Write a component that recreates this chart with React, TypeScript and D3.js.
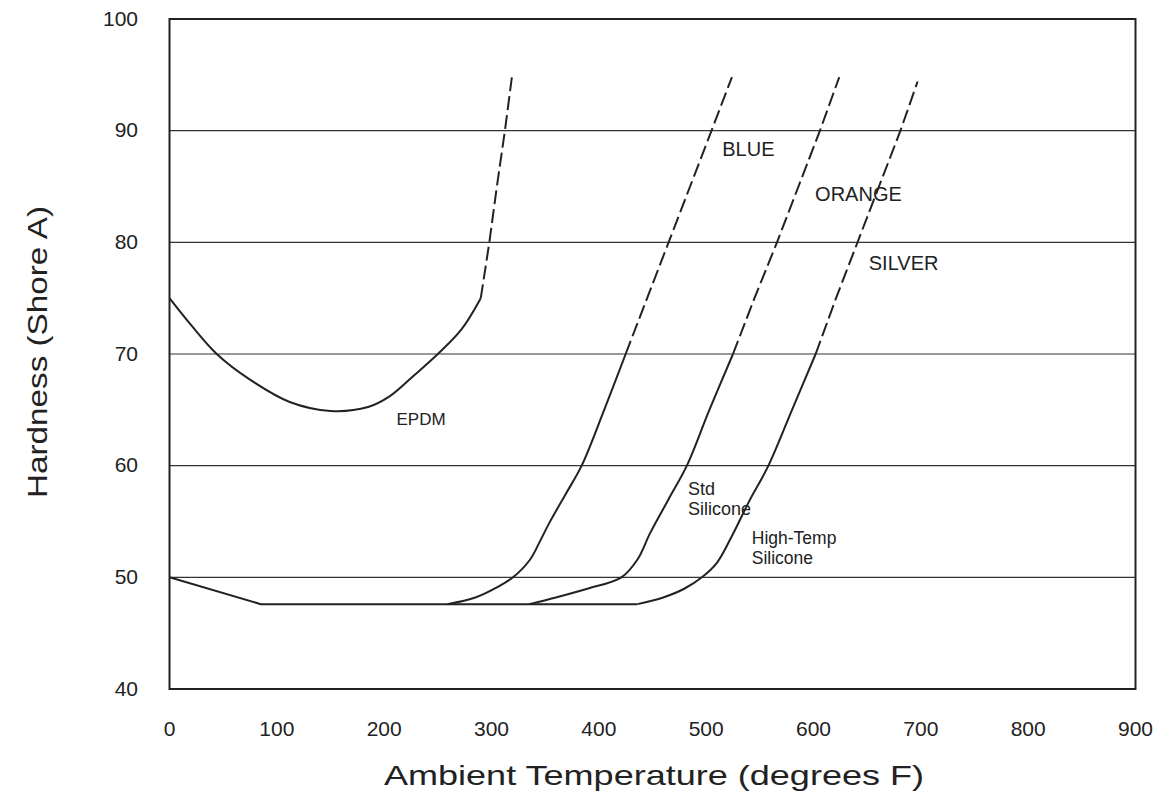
import React from "react";
import * as d3 from "d3";

// ---- data ----
const xTicks = [0, 100, 200, 300, 400, 500, 600, 700, 800, 900];
const yTicks = [40, 50, 60, 70, 80, 90, 100];
const gridValues = [50, 60, 70, 80, 90];

// shared silicone base curve [temp, hardness]
const siliconeBase: [number, number][] = [
  [0, 50], [85, 47.6], [436, 47.6],
];
const blueSolid: [number, number][] = [
  [259, 47.6], [285, 48.2], [305, 49.1], [320, 50], [336, 51.6], [345, 53.2],
  [354, 54.9], [370, 57.6], [384, 60], [405, 65], [425, 70],
];
const blueDashed: [number, number][] = [
  [425, 70], [445, 75], [465, 80], [485, 85], [505, 90], [524, 94.8],
];
const orangeSolid: [number, number][] = [
  [335, 47.6], [360, 48.2], [390, 49], [421, 50], [436, 51.6], [448, 54],
  [465, 57], [482, 60], [503, 65], [525, 70],
];
const orangeDashed: [number, number][] = [
  [525, 70], [545, 75], [566, 80], [586, 85], [606, 90], [624, 94.8],
];
const silverSolid: [number, number][] = [
  [436, 47.6], [460, 48.2], [480, 49], [496, 50], [510, 51.3], [524, 53.7],
  [540, 56.8], [558, 60], [580, 65], [602, 70],
];
const silverDashed: [number, number][] = [
  [602, 70], [621, 75], [641, 80], [661, 85], [681, 90], [697, 94.4],
];
const epdmSolid: [number, number][] = [
  [0, 75], [20, 72.6], [44, 70], [75, 67.7], [112, 65.7], [150, 64.9],
  [185, 65.25], [205, 66.2], [228, 68.1], [250, 70], [272, 72.2], [290, 75],
];
const epdmDashed: [number, number][] = [
  [290, 75], [298, 80], [305, 85], [312.5, 90], [319, 94.8],
];

const labels = [
  { lines: ["BLUE"], t: 515, h: 87.75, size: 20 },
  { lines: ["ORANGE"], t: 601.5, h: 83.7, size: 20 },
  { lines: ["SILVER"], t: 651.5, h: 77.5, size: 20 },
  { lines: ["EPDM"], t: 211.5, h: 63.65, size: 17 },
  { lines: ["Std", "Silicone"], t: 483, h: 57.4, size: 18 },
  { lines: ["High-Temp", "Silicone"], t: 542.5, h: 53.0, size: 17.5 },
];

// ---- layout ----
const W = 1162;
const H = 802;
const left = 169.5;
const right = 1135.5;
const top = 19;
const bottom = 689;
const ink = "#222";
const font = "'Liberation Sans', Arial, Helvetica, sans-serif";

export default function App() {
  const x = d3.scaleLinear().domain([0, 900]).range([left, right]);
  const y = d3.scaleLinear().domain([40, 100]).range([bottom, top]);
  const smooth = d3
    .line<[number, number]>()
    .x((d) => x(d[0]))
    .y((d) => y(d[1]))
    .curve(d3.curveCatmullRom.alpha(0.5));
  const straight = d3
    .line<[number, number]>()
    .x((d) => x(d[0]))
    .y((d) => y(d[1]));

  const solids = [blueSolid, orangeSolid, silverSolid, epdmSolid];
  const dashes = [blueDashed, orangeDashed, silverDashed, epdmDashed];

  return (
    <svg
      width={W}
      height={H}
      style={{ position: "absolute", left: 0, top: 0, background: "#fff" }}
      fontFamily={font}
    >
      {gridValues.map((v) => (
        <line
          key={v}
          x1={left}
          x2={right}
          y1={y(v)}
          y2={y(v)}
          stroke="#333"
          strokeWidth={1.2}
        />
      ))}
      <rect
        x={left}
        y={top}
        width={right - left}
        height={bottom - top}
        fill="none"
        stroke={ink}
        strokeWidth={2}
      />
      {yTicks.map((v) => (
        <text
          key={v}
          x={138}
          y={y(v) - 1}
          textAnchor="end"
          dominantBaseline="central"
          fontSize={21}
          fill={ink}
        >
          {v}
        </text>
      ))}
      {xTicks.map((v) => (
        <text
          key={v}
          x={x(v)}
          y={728}
          textAnchor="middle"
          dominantBaseline="central"
          fontSize={21}
          fill={ink}
        >
          {v}
        </text>
      ))}
      <path d={straight(siliconeBase) || ""} fill="none" stroke={ink} strokeWidth={2} />
      {solids.map((s, i) => (
        <path key={"s" + i} d={smooth(s) || ""} fill="none" stroke={ink} strokeWidth={2} />
      ))}
      {dashes.map((s, i) => (
        <path
          key={"d" + i}
          d={straight(s) || ""}
          fill="none"
          stroke={ink}
          strokeWidth={2}
          strokeDasharray="14,5"
        />
      ))}
      {labels.map((l, i) => (
        <text key={"l" + i} x={x(l.t)} y={y(l.h)} fontSize={l.size} fill={ink}>
          {l.lines.map((ln, j) => (
            <tspan key={j} x={x(l.t)} dy={j === 0 ? 0 : 20}>
              {ln}
            </tspan>
          ))}
        </text>
      ))}
      <text
        x={654}
        y={785}
        textAnchor="middle"
        fontSize={28}
        textLength={540}
        lengthAdjust="spacingAndGlyphs"
        fill={ink}
      >
        Ambient Temperature (degrees F)
      </text>
      <text
        transform={`translate(47,352) rotate(-90)`}
        textAnchor="middle"
        fontSize={28}
        textLength={292}
        lengthAdjust="spacingAndGlyphs"
        fill={ink}
      >
        Hardness (Shore A)
      </text>
    </svg>
  );
}
